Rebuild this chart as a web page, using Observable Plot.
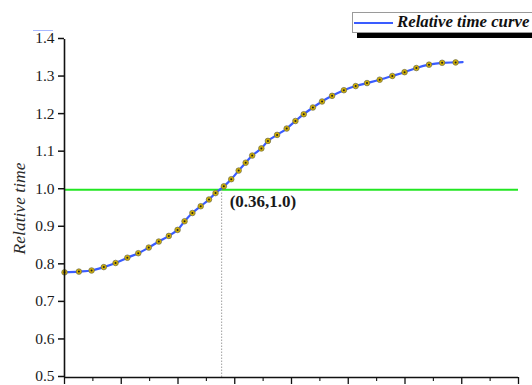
<!DOCTYPE html>
<html>
<head>
<meta charset="utf-8">
<script src="https://cdn.jsdelivr.net/npm/d3@7"></script>
<script src="https://cdn.jsdelivr.net/npm/@observablehq/plot@0.6"></script>
<style>
  html, body { margin: 0; padding: 0; background: #fff; }
  #wrap { position: relative; width: 532px; height: 385px; overflow: hidden; }
  #legend-box { position: absolute; left: 352px; top: 12px; width: 200px; height: 21px; border: 1px solid #9a9a9a; background: #fff; box-sizing: border-box; }
  #legend-shadow { position: absolute; left: 357px; top: 33px; width: 200px; height: 5px; background: #000; }
  #legend-line { position: absolute; left: 354px; top: 22px; width: 39px; height: 2px; background: #3a5cff; }
  #legend-text { position: absolute; left: 397px; top: 12px; font: italic bold 16.8px "Liberation Serif", serif; color: #111; white-space: nowrap; line-height: 20px; }
  #corner-mark { position: absolute; left: 33px; top: 30px; width: 20px; height: 1px; background: #a8b8ff; }
</style>
</head>
<body>
<div id="wrap">
  <div id="chart"></div>
  <div id="corner-mark"></div>
  <div id="legend-shadow"></div>
  <div id="legend-box"></div>
  <div id="legend-line"></div>
  <div id="legend-text">Relative time curve</div>
</div>
<script>
// Relative time curve samples (x, relative time)
const curveX = [0.000, 0.033, 0.062, 0.090, 0.117, 0.144, 0.169, 0.193, 0.216, 0.239,
                0.259, 0.275, 0.293, 0.312, 0.331, 0.346, 0.365, 0.382, 0.399, 0.415,
                0.430, 0.451, 0.466, 0.487, 0.509, 0.529, 0.548, 0.569, 0.590, 0.613,
                0.640, 0.667, 0.693, 0.722, 0.751, 0.779, 0.806, 0.835, 0.865, 0.896];
const curveY = [0.780, 0.782, 0.785, 0.794, 0.805, 0.819, 0.831, 0.846, 0.862, 0.877,
                0.893, 0.916, 0.938, 0.956, 0.974, 0.991, 1.009, 1.028, 1.051, 1.072,
                1.091, 1.110, 1.130, 1.146, 1.163, 1.183, 1.201, 1.219, 1.235, 1.250,
                1.265, 1.276, 1.284, 1.293, 1.303, 1.313, 1.324, 1.333, 1.338, 1.339];
// line continues slightly past the last marker
const tailX = [0.896, 0.912];
const tailY = [1.339, 1.340];

const yTicks = [0.5, 0.6, 0.7, 0.8, 0.9, 1.0, 1.1, 1.2, 1.3, 1.4];
const xMajorTicks = [0, 0.13, 0.26, 0.39, 0.52, 0.65, 0.78, 0.91, 1.04];
const xMinorTicks = [0.065, 0.195, 0.325, 0.455, 0.585, 0.715, 0.845, 0.975];

const refLevel = [1.0];
const annX = [0.36];
const annY = [1.0];
const annLabel = ["(0.36,1.0)"];
const yLabel = ["Relative time"];

const pts = curveX.map((x, i) => ({x, y: curveY[i]}));
const linePts = pts.concat(tailX.slice(1).map((x, i) => ({x, y: tailY[i + 1]})));
const ann = annX.map((x, i) => ({x, y: annY[i], label: annLabel[i]}));

const plot = Plot.plot({
  width: 532,
  height: 385,
  marginLeft: 64,
  marginRight: 14,
  marginTop: 39,
  marginBottom: 8,
  style: {fontFamily: "'Liberation Serif', serif", background: "transparent", overflow: "visible"},
  x: {domain: [0, 1.04]},
  y: {domain: [0.5, 1.4]},
  marks: [
    Plot.ruleY(refLevel, {stroke: "#22e622", strokeWidth: 2}),
    Plot.ruleX(ann, {x: "x", y1: 0.5, y2: "y", stroke: "#a0a0a0", strokeWidth: 1, strokeDasharray: "1.5,1.5"}),
    Plot.line(linePts, {x: "x", y: "y", stroke: "#3a5cff", strokeWidth: 2.2, curve: "catmull-rom"}),
    Plot.dot(pts, {x: "x", y: "y", r: 2.8, fill: "#d2b000", stroke: "#6b6b55", strokeWidth: 0.7}),
    Plot.dot(pts, {x: "x", y: "y", r: 1, fill: "#222", stroke: "none"}),
    Plot.axisY(yTicks, {tickSize: 6, tickPadding: 4, tickFormat: d3.format(".1f"), fontSize: 15.5, dy: -1, fill: "#1a1a1a", stroke: "#111", strokeWidth: 1.5, label: null}),
    Plot.axisX(xMajorTicks, {tickSize: 7, tickFormat: () => "", stroke: "#111", strokeWidth: 1.3, label: null}),
    Plot.axisX(xMinorTicks, {tickSize: 4, tickFormat: () => "", stroke: "#111", strokeWidth: 1.1, label: null}),
    Plot.ruleX([0], {stroke: "#111", strokeWidth: 1.6}),
    Plot.ruleY([0.5], {stroke: "#111", strokeWidth: 1.6}),
    Plot.text(ann, {x: "x", y: "y", text: "label", textAnchor: "start", dx: 8, dy: 12, fontSize: 17, fontWeight: "bold", fill: "#1a1a1a"}),
    Plot.text(yLabel, {frameAnchor: "left", textAnchor: "middle", dx: -45, rotate: -90, fontSize: 17.5, fontStyle: "italic", fill: "#2a2a2a"})
  ]
});
document.getElementById("chart").appendChild(plot);
</script>
</body>
</html>
